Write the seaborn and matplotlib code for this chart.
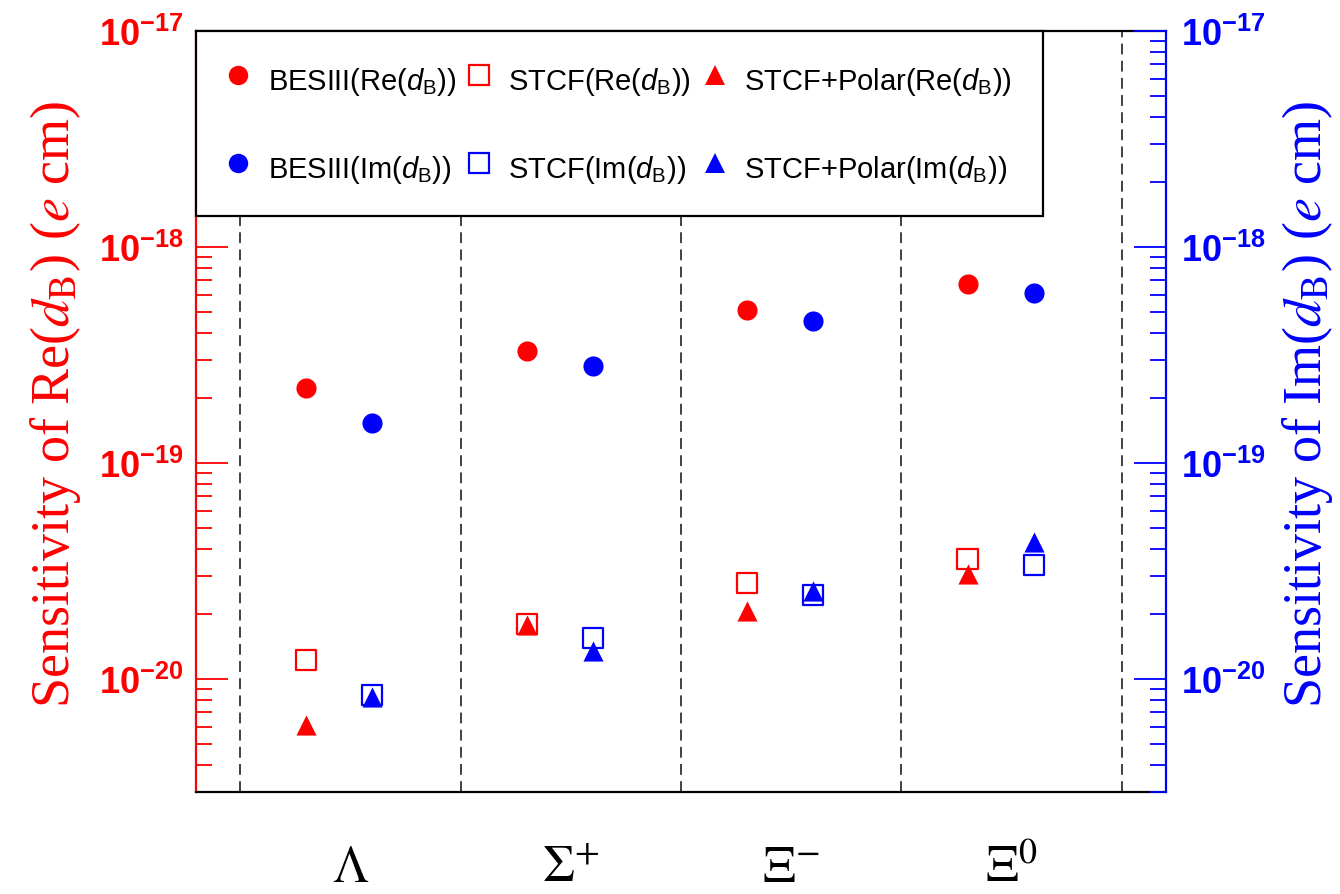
import numpy as np
import matplotlib
matplotlib.use("Agg")
import matplotlib.pyplot as plt
import seaborn as sns
from matplotlib.lines import Line2D
from matplotlib.ticker import FixedLocator, FixedFormatter, LogLocator, NullFormatter

# ---------------- data ----------------
baryons = [r"$\Lambda$", r"$\Sigma^{+}$", r"$\Xi^{-}$", r"$\Xi^{0}$"]
besiii_re = [2.23e-19, 3.30e-19, 5.10e-19, 6.70e-19]
besiii_im = [1.53e-19, 2.82e-19, 4.55e-19, 6.15e-19]
stcf_re = [1.22e-20, 1.80e-20, 2.77e-20, 3.60e-20]
stcf_im = [8.4e-21, 1.54e-20, 2.45e-20, 3.38e-20]
polar_re = [6.1e-21, 1.77e-20, 2.07e-20, 3.06e-20]
polar_im = [8.2e-21, 1.35e-20, 2.56e-20, 4.30e-20]
ytick_values = [1e-20, 1e-19, 1e-18, 1e-17]
ytick_labels = [r"$\mathbf{10^{-20}}$", r"$\mathbf{10^{-19}}$",
                r"$\mathbf{10^{-18}}$", r"$\mathbf{10^{-17}}$"]
legend_labels = [r"BESIII(Re($d_{\mathsf{B}}$))", r"BESIII(Im($d_{\mathsf{B}}$))",
                 r"STCF(Re($d_{\mathsf{B}}$))", r"STCF(Im($d_{\mathsf{B}}$))",
                 r"STCF+Polar(Re($d_{\mathsf{B}}$))", r"STCF+Polar(Im($d_{\mathsf{B}}$))"]
ylabel_re = r"Sensitivity of Re($d_{\mathrm{B}}$) ($e$ cm)"
ylabel_im = r"Sensitivity of Im($d_{\mathrm{B}}$) ($e$ cm)"

# ---------------- style ----------------
sns.set_theme(style="white")
plt.rcParams["font.family"] = ["Liberation Sans", "DejaVu Sans"]
plt.rcParams["text.color"] = "black"
plt.rcParams["mathtext.fontset"] = "custom"
plt.rcParams["mathtext.rm"] = "Liberation Sans"
plt.rcParams["mathtext.sf"] = "Liberation Sans"
plt.rcParams["mathtext.it"] = "Liberation Sans:italic"
plt.rcParams["mathtext.bf"] = "Liberation Sans:bold"

RED = "#ff0000"
BLUE = "#0000ff"
YLIM = (3e-21, 1e-17)

fig = plt.figure(figsize=(13.4, 8.95), dpi=100)
ax = fig.add_axes([0.1463, 0.1143, 0.7238, 0.84995])
ax2 = ax.twinx()

n = len(baryons)
pos = np.arange(n)
x_re = pos + 0.30
x_im = pos + 0.60
S = 210

# dashed separators
for xv in np.arange(n + 1):
    ax.axvline(xv, color="#333333", lw=1.3, ls=(0, (6, 3.5)), zorder=0)

# red (Re) on left axis
sns.scatterplot(x=x_re, y=besiii_re, ax=ax, marker="o", color=RED, s=S, linewidth=0, zorder=3)
sns.scatterplot(x=x_re, y=stcf_re, ax=ax, marker="s", facecolor="none", edgecolor=RED,
                s=S, linewidth=1.6, zorder=3)
sns.scatterplot(x=x_re, y=polar_re, ax=ax, marker="^", color=RED, s=S, linewidth=0, zorder=4)

# blue (Im) on right axis
sns.scatterplot(x=x_im, y=besiii_im, ax=ax2, marker="o", color=BLUE, s=S, linewidth=0, zorder=3)
sns.scatterplot(x=x_im, y=stcf_im, ax=ax2, marker="s", facecolor="none", edgecolor=BLUE,
                s=S, linewidth=1.6, zorder=3)
sns.scatterplot(x=x_im, y=polar_im, ax=ax2, marker="^", color=BLUE, s=S, linewidth=0, zorder=4)

for a in (ax, ax2):
    a.set_yscale("log")
    a.set_ylim(*YLIM)
    a.set_xlim(-0.2, n + 0.2)
    a.yaxis.set_major_locator(FixedLocator(ytick_values))
    a.yaxis.set_major_formatter(FixedFormatter(ytick_labels))
    a.yaxis.set_minor_locator(LogLocator(base=10, subs=np.arange(2, 10), numticks=20))
    a.yaxis.set_minor_formatter(NullFormatter())
    a.tick_params(axis="x", bottom=False, top=False, labelbottom=False)

ax.tick_params(axis="y", which="both", direction="in", colors=RED, left=True, right=False,
               labelleft=True, labelright=False, width=1.3, labelsize=26)
ax.tick_params(axis="y", which="major", length=23, pad=9)
ax.tick_params(axis="y", which="minor", length=11.5)
ax2.tick_params(axis="y", which="both", direction="in", colors=BLUE, left=False, right=True,
                labelleft=False, labelright=True, width=1.3, labelsize=26)
ax2.tick_params(axis="y", which="major", length=23, pad=11)
ax2.tick_params(axis="y", which="minor", length=11.5)

for side in ("top", "bottom"):
    ax.spines[side].set_color("black")
    ax.spines[side].set_linewidth(1.6)
ax.spines["left"].set_color(RED)
ax.spines["left"].set_linewidth(1.6)
ax.spines["right"].set_visible(False)
for side in ("left", "top", "bottom"):
    ax2.spines[side].set_visible(False)
ax2.spines["right"].set_color(BLUE)
ax2.spines["right"].set_linewidth(1.6)

# axis titles
ax.set_ylabel(ylabel_re, color=RED, fontsize=39, fontfamily="Liberation Serif",
              math_fontfamily="stix")
ax.yaxis.set_label_coords(-0.117, 0.51)
ax2.set_ylabel(ylabel_im, color=BLUE, fontsize=39, fontfamily="Liberation Serif",
               math_fontfamily="stix", rotation=90)
ax2.yaxis.set_label_coords(1.118, 0.51)

# category labels
for i, lab in enumerate(baryons):
    ax.text(i + 0.5, -0.1175, lab, transform=ax.get_xaxis_transform(), ha="center",
            va="baseline", fontsize=37, math_fontfamily="stix", color="black")

# legend
handles = [
    Line2D([], [], ls="", marker="o", color=RED, markersize=14, mew=0),
    Line2D([], [], ls="", marker="o", color=BLUE, markersize=14, mew=0),
    Line2D([], [], ls="", marker="s", mfc="none", mec=RED, markersize=14, mew=1.6),
    Line2D([], [], ls="", marker="s", mfc="none", mec=BLUE, markersize=14, mew=1.6),
    Line2D([], [], ls="", marker="^", color=RED, markersize=14, mew=0),
    Line2D([], [], ls="", marker="^", color=BLUE, markersize=14, mew=0),
]
leg = ax2.legend(handles, legend_labels, ncol=3, loc="upper left", bbox_to_anchor=(0, 1),
                 borderaxespad=0, frameon=True, fancybox=False, edgecolor="black",
                 framealpha=1, prop={"family": "Liberation Sans", "size": 21},
                 handlelength=0.8, handleheight=1.5, handletextpad=0.6, columnspacing=0.4,
                 borderpad=1.05, labelspacing=1.8, labelcolor="black")
leg.get_frame().set_linewidth(1.6)
leg.set_zorder(10)

fig.savefig("out.png", dpi=100)
